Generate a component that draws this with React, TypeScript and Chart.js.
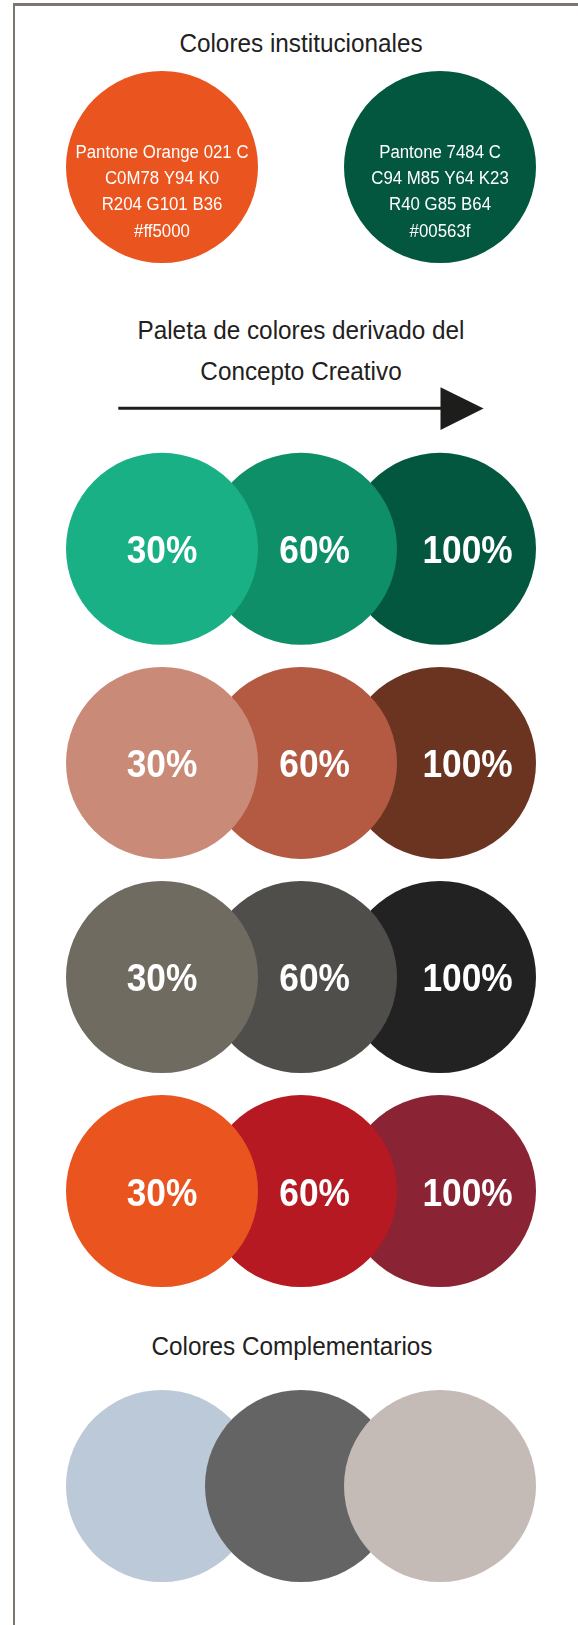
import React, { useEffect, useRef } from 'react';
import { Chart, registerables } from 'chart.js';

Chart.register(...registerables);

// ---------- data ----------
const TINT_LABELS = ['30%', '60%', '100%'];
const FAMILY_NAMES = ['Verde', 'Terracota', 'Gris', 'Rojo'];
const GREEN_TINTS = ['#19b086', '#0e8f68', '#03573f'];
const TERRACOTTA_TINTS = ['#c98a77', '#b45a42', '#6b3420'];
const GRAY_TINTS = ['#6f6b61', '#4f4e4b', '#222222'];
const RED_TINTS = ['#e9541f', '#b71922', '#8a2333'];
const FAMILY_TINTS = [GREEN_TINTS, TERRACOTTA_TINTS, GRAY_TINTS, RED_TINTS];

const INSTITUTIONAL_SLOTS = [0, 2];
const INSTITUTIONAL_FILLS = ['#e9541f', '#03573f'];
const PANTONE_NAMES = ['Pantone Orange 021 C', 'Pantone 7484 C'];
const CMYK_VALUES = ['C0M78 Y94 K0', 'C94 M85 Y64 K23'];
const RGB_VALUES = ['R204 G101 B36', 'R40 G85 B64'];
const HEX_VALUES = ['#ff5000', '#00563f'];

const COMPLEMENTARY_SLOTS = [0, 1, 2];
const COMPLEMENTARY_FILLS = ['#bcc9d9', '#646464', '#c4bbb6'];

const TITLE_MAIN = 'Colores institucionales';
const TITLE_PALETTE = ['Paleta de colores derivado del', 'Concepto Creativo'];
const TITLE_COMPLEMENTARY = 'Colores Complementarios';

// ---------- layout / style ----------
const PAGE_W = 578;
const PAGE_H = 1625;
const COL_FIRST = 162;
const COL_STEP = 139;
const ROW_STEP = 214.1;
const CIRCLE_R = 96;
const INSTITUTIONAL_ROW_Y = 167;
const PALETTE_ROW_Y = 548.8;
const COMPLEMENTARY_ROW_Y = 1486;
const FONT = '"Liberation Sans", Arial, Helvetica, sans-serif';
const TITLE_SQUEEZE = 0.935;
const PERCENT_SHIFT = [0, 13.6, 27.6];
const PERCENT_BASELINE = 14.4;
const INFO_BASELINES = [-9.4, 17.0, 43.4, 69.8];
const TEXT_DARK = '#222120';
const FRAME = '#7b776e';

const circleTextPlugin = {
  id: 'circleText',
  afterDatasetsDraw(chart: any, _args: any, opts: any) {
    const ctx = chart.ctx as CanvasRenderingContext2D;
    (opts.items || []).forEach((item: any) => {
      const el = chart.getDatasetMeta(item.dataset).data[item.index];
      if (!el) return;
      ctx.save();
      ctx.font = item.font;
      ctx.fillStyle = item.color;
      ctx.textAlign = 'center';
      ctx.textBaseline = 'alphabetic';
      item.lines.forEach((line: string, k: number) => {
        ctx.save();
        ctx.translate(el.x + item.dx, el.y + item.dy[k]);
        ctx.scale(item.scaleX, 1);
        ctx.fillText(line, 0, 0);
        ctx.restore();
      });
      ctx.restore();
    });
  },
};

type Built = { datasets: any[]; labels: any[] };

function CircleChart({ firstRowY, rowCount, build }: { firstRowY: number; rowCount: number; build: () => Built }) {
  const ref = useRef<HTMLCanvasElement>(null);
  const top = Math.floor(firstRowY - ROW_STEP / 2) - 6;
  const height = Math.ceil(rowCount * ROW_STEP) + 14;
  useEffect(() => {
    if (!ref.current) return;
    const { datasets, labels } = build();
    const areaTop = firstRowY - ROW_STEP / 2 - top;
    const areaBottom = height - areaTop - rowCount * ROW_STEP;
    const left = COL_FIRST - COL_STEP / 2;
    const right = PAGE_W - left - 3 * COL_STEP;
    const chart = new Chart(ref.current, {
      type: 'scatter',
      data: { datasets },
      options: {
        responsive: false,
        animation: false,
        events: [],
        layout: { autoPadding: false, padding: { left, right, top: areaTop, bottom: areaBottom } },
        scales: {
          x: { type: 'linear', min: -0.5, max: 2.5, display: false },
          y: { type: 'linear', min: -0.5, max: rowCount - 0.5, reverse: true, display: false },
        },
        plugins: {
          legend: { display: false },
          tooltip: { enabled: false },
          circleText: { items: labels },
        } as any,
      },
      plugins: [circleTextPlugin],
    });
    return () => chart.destroy();
  }, []);
  return (
    <canvas
      ref={ref}
      width={PAGE_W}
      height={height}
      style={{ position: 'absolute', left: 0, top, width: PAGE_W, height }}
    />
  );
}

const pointStyleBase = {
  pointRadius: CIRCLE_R,
  pointHoverRadius: CIRCLE_R,
  pointBorderWidth: 0,
  pointHoverBorderWidth: 0,
  pointBorderColor: 'rgba(0,0,0,0)',
  showLine: false,
  clip: false as any,
};

function buildInstitutional(): Built {
  const datasets = [
    {
      label: 'Institucionales',
      data: INSTITUTIONAL_SLOTS.map((x) => ({ x, y: 0 })),
      pointBackgroundColor: INSTITUTIONAL_FILLS,
      ...pointStyleBase,
    },
  ];
  const labels = INSTITUTIONAL_SLOTS.map((_, i) => ({
    dataset: 0,
    index: i,
    lines: [PANTONE_NAMES[i], CMYK_VALUES[i], RGB_VALUES[i], HEX_VALUES[i]],
    dx: 0,
    dy: INFO_BASELINES,
    font: `18px ${FONT}`,
    color: '#ffffff',
    scaleX: TITLE_SQUEEZE,
  }));
  return { datasets, labels };
}

function buildPalette(): Built {
  const datasets = TINT_LABELS.map((tint, c) => ({
    label: tint,
    data: FAMILY_NAMES.map((_, r) => ({ x: c, y: r })),
    pointBackgroundColor: FAMILY_TINTS.map((fam) => fam[c]),
    ...pointStyleBase,
  }));
  const labels: any[] = [];
  TINT_LABELS.forEach((tint, c) => {
    FAMILY_NAMES.forEach((_, r) => {
      labels.push({
        dataset: c,
        index: r,
        lines: [tint],
        dx: PERCENT_SHIFT[c],
        dy: [PERCENT_BASELINE],
        font: `bold 39px ${FONT}`,
        color: '#ffffff',
        scaleX: 0.905,
      });
    });
  });
  return { datasets, labels };
}

function buildComplementary(): Built {
  const datasets = [
    {
      label: 'Complementarios',
      data: COMPLEMENTARY_SLOTS.map((x) => ({ x, y: 0 })),
      pointBackgroundColor: COMPLEMENTARY_FILLS,
      ...pointStyleBase,
    },
  ];
  return { datasets, labels: [] };
}

function Title({ text, cx, top }: { text: string; cx: number; top: number }) {
  return (
    <div
      style={{
        position: 'absolute',
        left: cx,
        top,
        fontFamily: FONT,
        fontSize: 26,
        lineHeight: '26px',
        color: TEXT_DARK,
        whiteSpace: 'nowrap',
        transform: `translateX(-50%) scaleX(${TITLE_SQUEEZE})`,
      }}
    >
      {text}
    </div>
  );
}

export default function App() {
  return (
    <div
      style={{
        position: 'absolute',
        left: 0,
        top: 0,
        width: PAGE_W,
        height: PAGE_H,
        overflow: 'hidden',
        background: '#ffffff',
      }}
    >
      <div
        style={{
          position: 'absolute',
          left: 13,
          top: 3,
          width: PAGE_W + 100,
          height: PAGE_H + 100,
          borderTop: `3px solid ${FRAME}`,
          borderLeft: `2px solid ${FRAME}`,
        }}
      />
      <Title text={TITLE_MAIN} cx={301} top={30.3} />
      <CircleChart firstRowY={INSTITUTIONAL_ROW_Y} rowCount={1} build={buildInstitutional} />
      <Title text={TITLE_PALETTE[0]} cx={300.7} top={317.3} />
      <Title text={TITLE_PALETTE[1]} cx={300.8} top={358} />
      <svg style={{ position: 'absolute', left: 0, top: 380 }} width={PAGE_W} height={60}>
        <line x1={118.3} y1={28.3} x2={442} y2={28.3} stroke="#1d1d1b" strokeWidth={3} />
        <polygon points="440.5,7.3 483.6,28.5 440.5,50" fill="#1d1d1b" />
      </svg>
      <CircleChart firstRowY={PALETTE_ROW_Y} rowCount={4} build={buildPalette} />
      <Title text={TITLE_COMPLEMENTARY} cx={291.7} top={1332.5} />
      <CircleChart firstRowY={COMPLEMENTARY_ROW_Y} rowCount={1} build={buildComplementary} />
    </div>
  );
}
